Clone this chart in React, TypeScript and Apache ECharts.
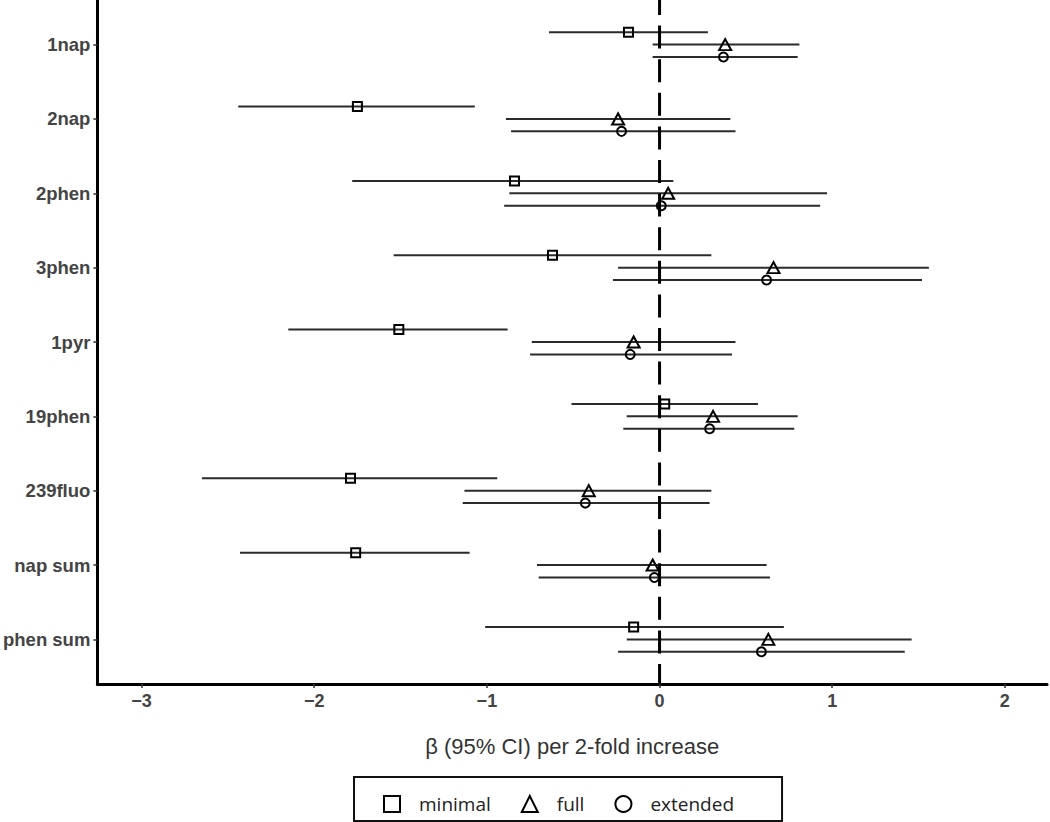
import React, { useEffect, useRef } from "react";
import * as echarts from "echarts";

const CATEGORIES = ["1nap", "2nap", "2phen", "3phen", "1pyr", "19phen", "239fluo", "nap sum", "phen sum"];
const MODELS = ["minimal", "full", "extended"];

const MINIMAL_EST = [-0.18, -1.75, -0.84, -0.62, -1.51, 0.03, -1.79, -1.76, -0.15];
const MINIMAL_LO = [-0.64, -2.44, -1.78, -1.54, -2.15, -0.51, -2.65, -2.43, -1.01];
const MINIMAL_HI = [0.28, -1.07, 0.08, 0.3, -0.88, 0.57, -0.94, -1.1, 0.72];

const FULL_EST = [0.38, -0.24, 0.05, 0.66, -0.15, 0.31, -0.41, -0.04, 0.63];
const FULL_LO = [-0.04, -0.89, -0.87, -0.24, -0.74, -0.19, -1.13, -0.71, -0.19];
const FULL_HI = [0.81, 0.41, 0.97, 1.56, 0.44, 0.8, 0.3, 0.62, 1.46];

const EXTENDED_EST = [0.37, -0.22, 0.01, 0.62, -0.17, 0.29, -0.43, -0.03, 0.59];
const EXTENDED_LO = [-0.04, -0.86, -0.9, -0.27, -0.75, -0.21, -1.14, -0.7, -0.24];
const EXTENDED_HI = [0.8, 0.44, 0.93, 1.52, 0.42, 0.78, 0.29, 0.64, 1.42];

const X_TICKS = [-3, -2, -1, 0, 1, 2];
const REFERENCE_X = 0;

export default function App() {
  const ref = useRef<HTMLDivElement>(null);

  useEffect(() => {
    document.body.style.margin = "0";
    if (!ref.current) return;
    const chart = echarts.init(ref.current, undefined, { renderer: "svg" });

    const X_MIN = -3.256;
    const X_MAX = 2.244;
    const Y_MIN = 0.4;
    const Y_MAX = CATEGORIES.length + 0.6;
    const dodge = 1 / 6;
    const catPositions = CATEGORIES.map((_, i) => i + 1);

    const groups = [
      { name: MODELS[0], est: MINIMAL_EST, lo: MINIMAL_LO, hi: MINIMAL_HI, off: -dodge, symbol: "rect", size: 9 },
      { name: MODELS[1], est: FULL_EST, lo: FULL_LO, hi: FULL_HI, off: 0, symbol: "triangle", size: [12, 11] },
      { name: MODELS[2], est: EXTENDED_EST, lo: EXTENDED_LO, hi: EXTENDED_HI, off: dodge, symbol: "circle", size: 9 },
    ];

    const ciSeries = groups.map((g) => ({
      type: "custom",
      name: g.name + " CI",
      z: 2,
      silent: true,
      encode: { x: [0, 1], y: 2 },
      data: CATEGORIES.map((_, i) => [g.lo[i], g.hi[i], catPositions[i] + g.off]),
      renderItem: (params: any, api: any) => {
        const a = api.coord([api.value(0), api.value(2)]);
        const b = api.coord([api.value(1), api.value(2)]);
        return {
          type: "line",
          shape: { x1: a[0], y1: a[1], x2: b[0], y2: b[1] },
          style: { stroke: "#2b2b2b", lineWidth: 2 },
        };
      },
    }));

    const refSeries = {
      type: "custom",
      name: "reference",
      z: 3,
      silent: true,
      encode: { x: 0 },
      data: [[REFERENCE_X]],
      renderItem: (params: any, api: any) => {
        const a = api.coord([api.value(0), Y_MIN]);
        const b = api.coord([api.value(0), Y_MAX]);
        return {
          type: "line",
          shape: { x1: a[0], y1: a[1], x2: b[0], y2: b[1] },
          style: { stroke: "#000000", lineWidth: 3, lineDash: [23, 10.6], lineDashOffset: 7.6 },
        };
      },
    };

    const pointSeries = groups.map((g) => ({
      type: "scatter",
      name: g.name,
      z: 4,
      symbol: g.symbol,
      symbolSize: g.size,
      itemStyle: { color: "rgba(0,0,0,0)", borderColor: "#000000", borderWidth: 2, opacity: 1 },
      data: CATEGORIES.map((_, i) => [g.est[i], catPositions[i] + g.off]),
    }));

    chart.setOption({
      animation: false,
      backgroundColor: "#ffffff",
      grid: { left: 95.5, right: 3, top: 0, bottom: 138, containLabel: false },
      legend: {
        data: MODELS,
        selectedMode: false,
        left: 354,
        top: 777,
        orient: "horizontal",
        itemWidth: 16,
        itemHeight: 16,
        itemGap: 30,
        padding: [14, 48, 4, 29],
        borderColor: "#111111",
        borderWidth: 2,
        textStyle: {
          fontFamily: "Open Sans",
          fontSize: 19,
          lineHeight: 20,
          color: "#222222",
          padding: [0, 0, 6, 14],
        },
      },
      xAxis: {
        type: "value",
        min: X_MIN,
        max: X_MAX,
        splitLine: { show: false },
        axisLine: { show: true, onZero: false, lineStyle: { color: "#000000", width: 3 } },
        axisTick: { show: true, customValues: X_TICKS, length: 4, lineStyle: { color: "#333333", width: 1.5 } },
        axisLabel: {
          customValues: X_TICKS,
          margin: 8,
          fontFamily: "Liberation Sans",
          fontWeight: "bold",
          fontSize: 18,
          color: "#444444",
          formatter: (v: number) => (v < 0 ? "\u2212" + Math.abs(v) : String(v)),
        },
        name: "β (95% CI) per 2-fold increase",
        nameLocation: "middle",
        nameGap: 51,
        nameTextStyle: { fontFamily: "Liberation Sans", fontSize: 22, color: "#333333" },
      },
      yAxis: {
        type: "value",
        inverse: true,
        min: Y_MIN,
        max: Y_MAX,
        splitLine: { show: false },
        axisLine: { show: true, onZero: false, lineStyle: { color: "#000000", width: 3 } },
        axisTick: { show: true, customValues: catPositions, length: 4, lineStyle: { color: "#333333", width: 1.5 } },
        axisLabel: {
          customValues: catPositions,
          margin: 7,
          fontFamily: "Liberation Sans",
          fontWeight: "bold",
          fontSize: 18.5,
          color: "#444444",
          formatter: (v: number) => CATEGORIES[Math.round(v) - 1] ?? "",
        },
      },
      series: [...ciSeries, refSeries, ...pointSeries],
    });

    return () => chart.dispose();
  }, []);

  return <div ref={ref} style={{ width: 1050, height: 822 }} />;
}
